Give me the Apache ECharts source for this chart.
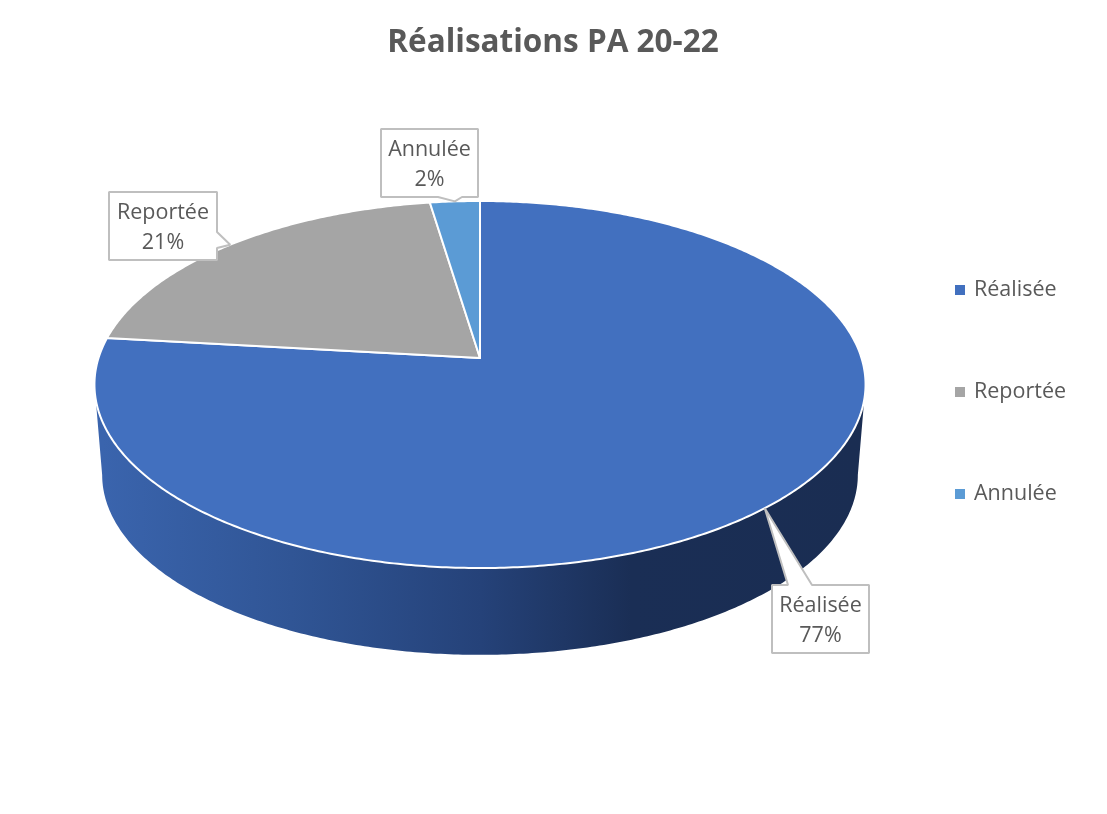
<!DOCTYPE html>
<html>
<head>
<meta charset="utf-8">
<style>html,body{margin:0;padding:0;background:#fff}#c{width:1107px;height:814px}</style>
<script src="https://cdn.jsdelivr.net/npm/echarts@6/dist/echarts.min.js"></script>
</head>
<body>
<div id="c"></div>
<script>
var categories = ['Réalisée', 'Reportée', 'Annulée'];
var values = [76.8, 20.8, 2.4];
var colors = ['#4270bf', '#a5a5a5', '#5b9bd5'];

// Projection of the tilted disc
var CX = 480, CY = 358, A = 381.5, B = 179.7, K = 0.1444;
var DEPTH = 91, BOTTOM_SCALE = 0.98;
var FONT = '"Open Sans", sans-serif';
// Callout boxes: rectangle and the edge segment the pointer leaves from
var boxes = [
  {x: 772, y: 585, w: 97, h: 68, edge: 'top', a: 788, b: 812},
  {x: 109, y: 192, w: 108, h: 68, edge: 'right', a: 232, b: 248},
  {x: 381, y: 129, w: 97, h: 68, edge: 'bottom', a: 438, b: 462}
];

var total = values.reduce(function (s, v) { return s + v; }, 0);
var starts = [];
values.reduce(function (s, v, i) { starts[i] = s; return s + v; }, 0);
function angleOf(v) { return v / total * 2 * Math.PI; }

function project(t, level) {
  var X = Math.sin(t), Y = Math.cos(t), w = 1 + K * Y;
  var s = level ? BOTTOM_SCALE : 1;
  return [CX + s * A * X / w, CY + (level ? DEPTH : 0) - s * B * Y / w];
}
function arc(t0, t1, level) {
  var n = Math.max(2, Math.ceil(Math.abs(t1 - t0) / 0.01)), pts = [];
  for (var i = 0; i <= n; i++) pts.push(project(t0 + (t1 - t0) * i / n, level));
  return pts;
}
var wallFrom = Math.acos(-K), wallTo = 2 * Math.PI - wallFrom;

function sliceRenderer(idx) {
  return function () {
    var t0 = angleOf(starts[idx]), t1 = angleOf(starts[idx] + values[idx]);
    var kids = [];
    var w0 = Math.max(t0, wallFrom), w1 = Math.min(t1, wallTo);
    if (w1 > w0) {
      kids.push({
        type: 'polygon',
        shape: {points: arc(w0, w1, 0).concat(arc(w1, w0, 1))},
        style: {
          fill: {
            type: 'linear', global: true, x: 103, y: 0, x2: 858, y2: 0,
            colorStops: [
              {offset: 0, color: '#3a64ad'},
              {offset: 0.25, color: '#305595'},
              {offset: 0.5, color: '#254279'},
              {offset: 0.7, color: '#1a2e55'},
              {offset: 1, color: '#1a2d52'}
            ]
          }
        }
      });
    }
    kids.push({
      type: 'polygon',
      shape: {points: [[CX, CY]].concat(arc(t0, t1, 0))},
      style: {fill: colors[idx], stroke: '#fff', lineWidth: 2, lineJoin: 'round'}
    });
    return {type: 'group', children: kids};
  };
}

function labelRenderer(params) {
  var i = params.dataIndex, b = boxes[i];
  var tip = project(angleOf(starts[i] + values[i] / 2), 0);
  var r = b.x + b.w, d = b.y + b.h, pts;
  if (b.edge === 'top') {
    pts = [[b.x, b.y], [b.a, b.y], tip, [b.b, b.y], [r, b.y], [r, d], [b.x, d]];
  } else if (b.edge === 'right') {
    pts = [[b.x, b.y], [r, b.y], [r, b.a], tip, [r, b.b], [r, d], [b.x, d]];
  } else {
    pts = [[b.x, b.y], [r, b.y], [r, d], [b.b, d], tip, [b.a, d], [b.x, d]];
  }
  function line(text, yy) {
    return {
      type: 'text',
      style: {
        text: text, x: b.x + b.w / 2, y: yy, align: 'center', verticalAlign: 'middle',
        fill: '#595959', font: '21.5px ' + FONT
      }
    };
  }
  return {
    type: 'group',
    children: [
      {type: 'polygon', shape: {points: pts}, style: {fill: '#fff', stroke: '#bfbfbf', lineWidth: 2, lineJoin: 'bevel'}},
      line(categories[i], b.y + 21),
      line(Math.round(values[i] / total * 100) + '%', b.y + 51)
    ]
  };
}

var series = categories.map(function (name, i) {
  return {
    type: 'custom', name: name, coordinateSystem: 'none', silent: true,
    animation: false, itemStyle: {color: colors[i]},
    renderItem: sliceRenderer(i), data: [values[i]]
  };
});
series.push({
  type: 'custom', name: 'labels', coordinateSystem: 'none', silent: true,
  animation: false, renderItem: labelRenderer, data: values.slice()
});

var chart = echarts.init(document.getElementById('c'), null, {renderer: 'canvas'});
chart.setOption({
  backgroundColor: '#fff',
  animation: false,
  title: {
    text: 'Réalisations PA 20-22', left: 548, top: 22, textAlign: 'center',
    textStyle: {color: '#595959', fontFamily: FONT, fontSize: 31.5, fontWeight: 'bold'}
  },
  legend: {
    data: categories, orient: 'vertical', left: 950, top: 274, itemWidth: 10, itemHeight: 10,
    itemGap: 80, icon: 'rect', selectedMode: false,
    textStyle: {color: '#595959', fontFamily: FONT, fontSize: 21.5, padding: [0, 0, 0, 4], lineHeight: 22}
  },
  series: series
});
</script>
</body>
</html>
